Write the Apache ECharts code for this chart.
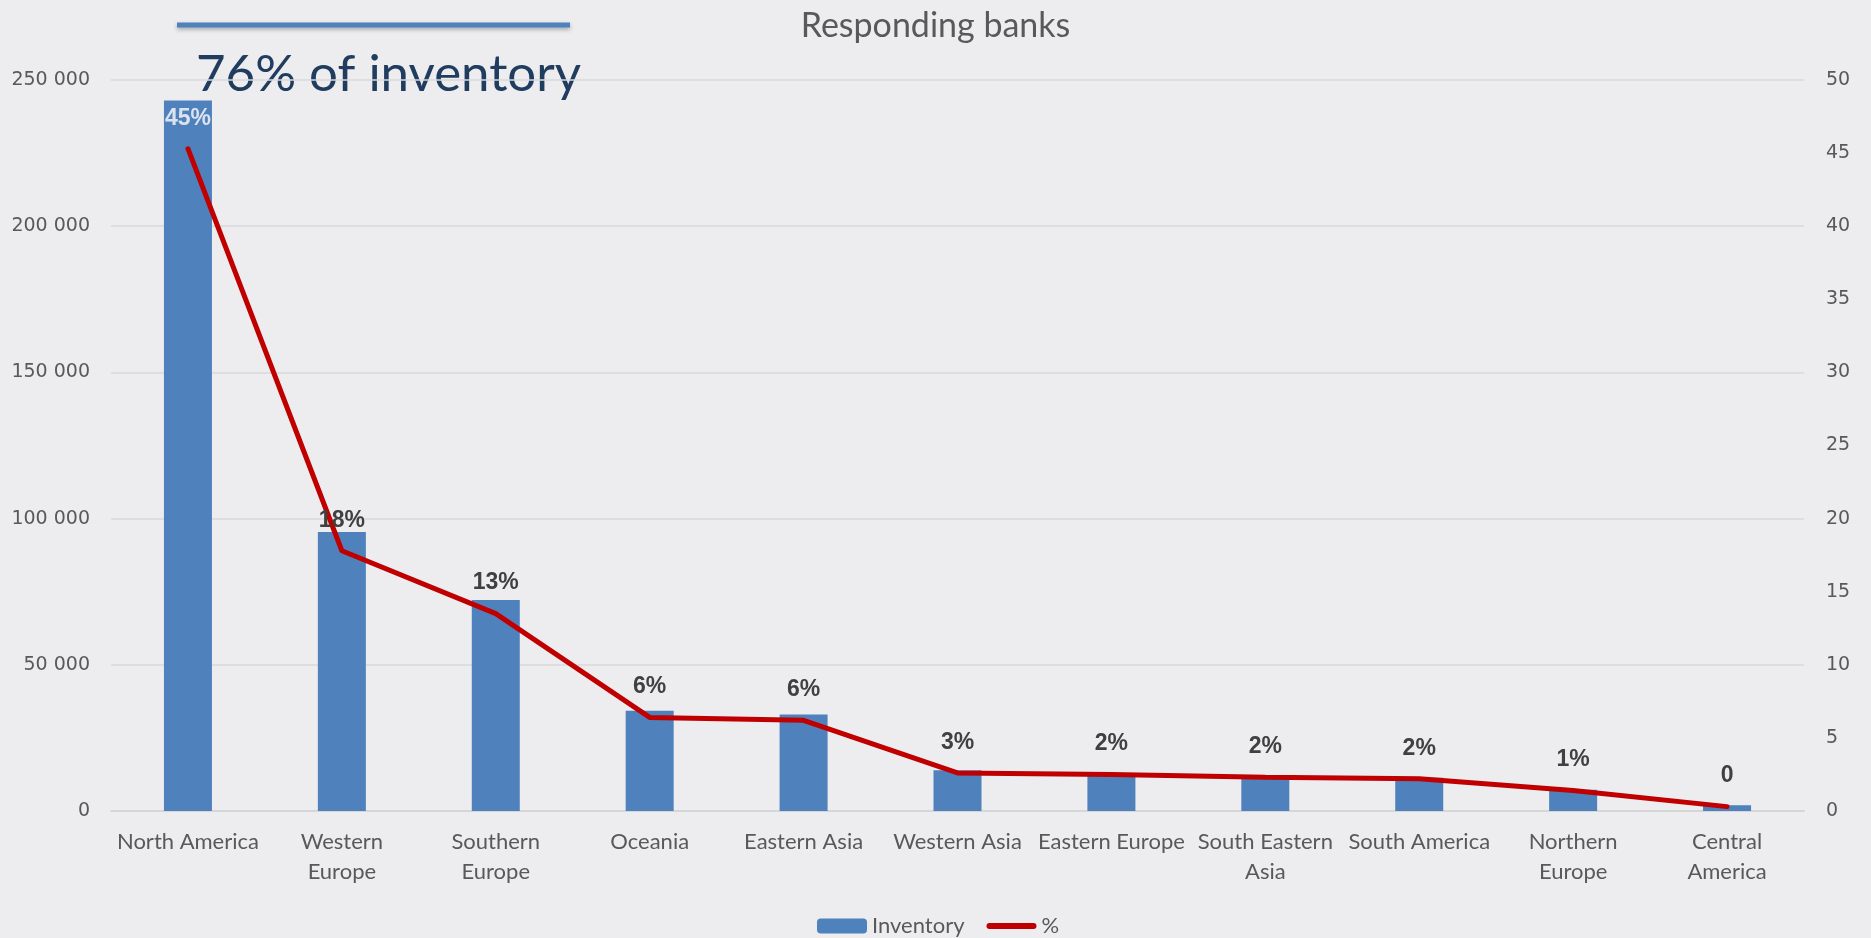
<!DOCTYPE HTML>
<html>
    <head>
        <meta charset="UTF-8">
        <title>Responding banks</title>
        <style>
            body,html{margin:0;padding:0;width:100%;height:100%;background:#edecef;}
            #wrap{width:1871px;height:938px;}
        </style>
    </head>
    <body>
        <div id="wrap"></div>

        <script src="https://cdn.jsdelivr.net/npm/echarts@6/dist/echarts.min.js"></script>
        <script>
            // data
            let categories = ['North America', 'Western\nEurope', 'Southern\nEurope', 'Oceania', 'Eastern Asia',
                'Western Asia', 'Eastern Europe', 'South Eastern\nAsia', 'South America', 'Northern\nEurope', 'Central\nAmerica'];
            let inventory = [243000, 95400, 72200, 34300, 33000, 13900, 13000, 11800, 11400, 7300, 2000];
            let percent = [45.3, 17.8, 13.5, 6.4, 6.2, 2.6, 2.5, 2.3, 2.2, 1.4, 0.3];
            let percentLabels = ['45%', '18%', '13%', '6%', '6%', '3%', '2%', '2%', '2%', '1%', '0'];
            let leftTicks = [0, 50000, 250000];   // min, interval, max
            let rightTicks = [0, 5, 50];

            let wrap = document.getElementById('wrap');
            let mycharts = echarts.init(wrap);

            let axisFont = '"DejaVu Sans", sans-serif';
            let textFont = 'Lato, "Open Sans", sans-serif';

            let lineData = percent.map((v, i) => ({
                value: v,
                label: {
                    formatter: percentLabels[i],
                    color: i === 0 ? '#dbe3ee' : '#404040'
                }
            }));

            // thick rounded stroke for the % legend entry
            let lineIcon = 'path://M3,0h44a3,3 0 0 1 0,6h-44a3,3 0 0 1 0,-6z';

            let options = {
                backgroundColor: '#edecef',
                animation: false,
                title: {
                    text: 'Responding banks',
                    left: 'center',
                    top: 4,
                    textStyle: {
                        color: '#595959',
                        fontFamily: textFont,
                        fontWeight: 'normal',
                        fontSize: 34
                    }
                },
                grid: {
                    left: 111,
                    right: 67,
                    top: 80,
                    bottom: 127
                },
                legend: {
                    left: 812,
                    top: 910,
                    itemWidth: 50,
                    itemHeight: 15,
                    itemGap: 22,
                    textStyle: {
                        color: '#595959',
                        fontFamily: textFont,
                        fontSize: 22
                    },
                    data: ['Inventory', {name: '%', icon: lineIcon}]
                },
                xAxis: {
                    type: 'category',
                    data: categories,
                    axisTick: {show: false},
                    axisLine: {lineStyle: {color: '#d6d5d8', width: 2}},
                    axisLabel: {
                        interval: 0,
                        color: '#595959',
                        fontFamily: textFont,
                        fontSize: 22,
                        lineHeight: 30,
                        margin: 16
                    }
                },
                yAxis: [{
                    type: 'value',
                    min: leftTicks[0],
                    max: leftTicks[2],
                    interval: leftTicks[1],
                    axisLine: {show: false},
                    axisTick: {show: false},
                    splitLine: {lineStyle: {color: '#d9d8db', width: 1.5}},
                    axisLabel: {
                        color: '#595959',
                        fontFamily: axisFont,
                        fontSize: 19,
                        margin: 21,
                        formatter: function (v) {
                            return String(v).replace(/\B(?=(\d{3})+(?!\d))/g, ' ');
                        }
                    }
                }, {
                    type: 'value',
                    min: rightTicks[0],
                    max: rightTicks[2],
                    interval: rightTicks[1],
                    axisLine: {show: false},
                    axisTick: {show: false},
                    splitLine: {show: false},
                    axisLabel: {
                        color: '#595959',
                        fontFamily: axisFont,
                        fontSize: 19,
                        margin: 22
                    }
                }],
                series: [{
                    name: 'Inventory',
                    type: 'bar',
                    data: inventory,
                    barWidth: 48,
                    itemStyle: {color: '#4f81bd'}
                }, {
                    name: '%',
                    type: 'line',
                    yAxisIndex: 1,
                    data: lineData,
                    symbol: 'circle',
                    symbolSize: 0.01,
                    showSymbol: true,
                    lineStyle: {color: '#c00000', width: 5, cap: 'round'},
                    itemStyle: {color: '#c00000'},
                    label: {
                        show: true,
                        position: 'top',
                        distance: 19,
                        fontFamily: '"Liberation Sans", Arial, sans-serif',
                        fontWeight: 'bold',
                        fontSize: 23
                    }
                }],
                graphic: [{
                    type: 'line',
                    shape: {x1: 177, y1: 25, x2: 570, y2: 25},
                    style: {
                        stroke: '#4f81bd',
                        lineWidth: 5,
                        shadowBlur: 4,
                        shadowOffsetY: 2,
                        shadowColor: 'rgba(0,0,0,0.3)'
                    }
                }, {
                    type: 'text',
                    left: 196,
                    top: 49,
                    style: {
                        text: '76% of inventory',
                        fill: '#203c5e',
                        font: '51px Lato, "Open Sans", sans-serif'
                    }
                }]
            };

            mycharts.setOption(options);
        </script>
    </body>
</html>
